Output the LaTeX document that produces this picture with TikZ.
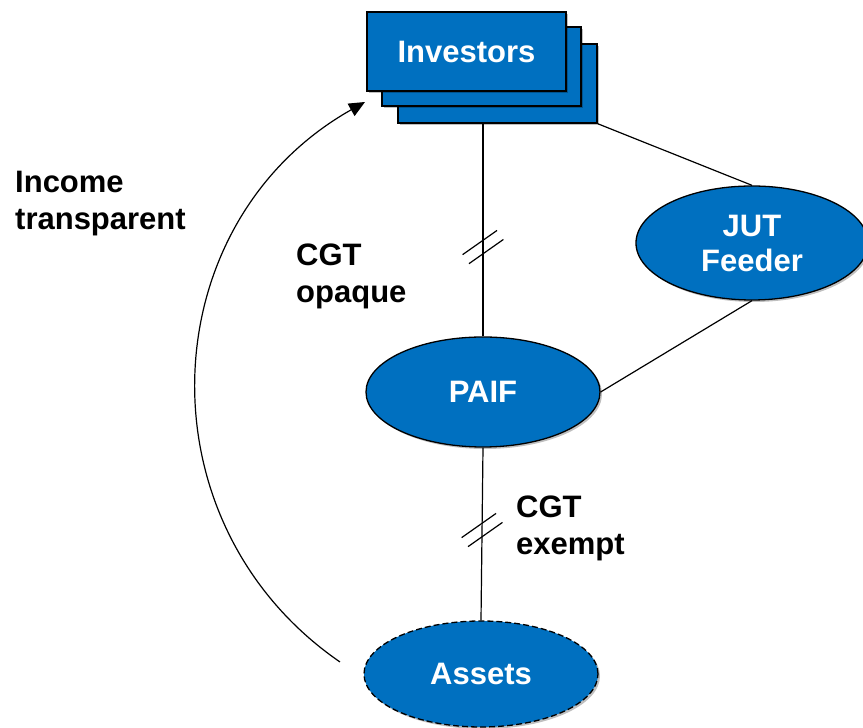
\documentclass[tikz,border=0pt]{standalone}
\usepackage{fontspec}
\setmainfont{Liberation Sans}
\usetikzlibrary{shapes.geometric,arrows.meta,shadows}
\definecolor{boxblue}{HTML}{0070C0}
\begin{document}
\begin{tikzpicture}[x=1pt,y=1pt,
  every node/.style={font=\fontsize{31}{37}\selectfont\bfseries},
  softshadow/.style={drop shadow={shadow xshift=2pt,shadow yshift=-2pt,opacity=0.25,fill=black}},
  invbox/.style={rectangle, fill=boxblue, draw=black, line width=1.5pt, text=white,
    minimum width=199pt, minimum height=79pt, inner sep=0pt, softshadow},
  ellip/.style={ellipse, fill=boxblue, draw=black, line width=1.3pt, text=white,
    inner sep=0pt, align=center, softshadow},
  conn/.style={draw=black, line width=1.2pt},
  lbl/.style={align=left, inner sep=0pt, text=black},
  slashes/.pic={\draw[line width=1.2pt] (-20.4,-7.6) -- (14.0,16.6) (-14.0,-16.6) -- (20.4,7.6);}
]
\useasboundingbox (0,0) rectangle (863,728);

% Investors stack
\node[invbox] (back) at (497.5,644.5) {};
\node[invbox] (mid) at (481.5,661.5) {};
\node[invbox] (front) at (466.5,676.5) {Investors};

% ellipses
\node[ellip, minimum width=232pt, minimum height=114pt] (jut) at (752,485) {\raisebox{-2pt}{JUT}\\Feeder};
\node[ellip, minimum width=234pt, minimum height=110pt] (paif) at (483,336) {PAIF};
\node[ellip, dash pattern=on 6pt off 3pt, minimum width=234pt, minimum height=106pt] (assets) at (481,54) {\raisebox{-2pt}{Assets}};

% connectors
\draw[conn] (paif.north) -- coordinate[pos=0.42] (s1) (paif.north |- back.south);
\draw[conn] (paif.south) -- coordinate[pos=0.477] (s2) (assets.north);
\draw[conn] (back.south east) -- (jut.north);
\draw[conn] (jut.south) -- (paif.east);
\pic at (s1) {slashes};
\pic at (s2) {slashes};

% income arc
\coordinate (a0) at (340,66);
\coordinate (a1) at (365,626);
\draw[conn, -{Triangle[length=16pt,width=14pt]}] (a0) to[bend left=58, looseness=1.12] (a1);

% labels (anchor = baseline of last line)
\node[lbl, anchor=base west] (income) at (15,498) {Income\\transparent};
\node[lbl, anchor=base west] (cgto) at (296,425) {CGT\\opaque};
\node[lbl, anchor=base west] (cgte) at (516,173) {CGT\\exempt};
\end{tikzpicture}
\end{document}
